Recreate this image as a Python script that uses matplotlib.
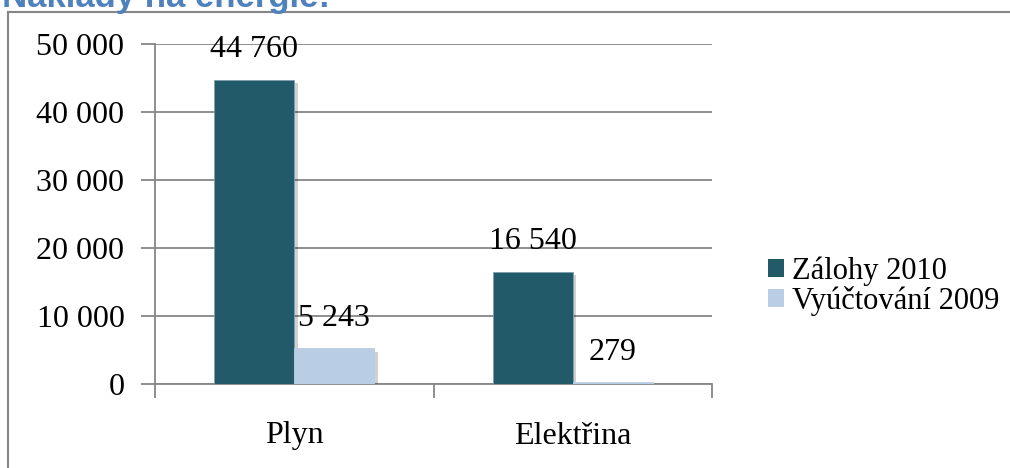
import matplotlib.pyplot as plt
import matplotlib.patheffects as pe
from matplotlib.lines import Line2D
from matplotlib.patches import Patch
import numpy as np

plt.rcParams['font.family'] = ['Liberation Serif', 'DejaVu Serif']

# data
kategorie = ['Plyn', 'Elektřina']
zalohy_2010 = [44760, 16540]
vyuctovani_2009 = [5243, 279]
serie = ['Zálohy 2010', 'Vyúčtování 2009']
y_ticks = [0, 10000, 20000, 30000, 40000, 50000]
y_labels = ['0', '10 000', '20 000', '30 000', '40 000', '50 000']

tmava = '#235A69'
svetla = '#B9CDE5'
seda = '#868686'
fs = 23

fig = plt.figure(figsize=(10.1, 4.68), dpi=100)
ax = fig.add_axes([155/1010, 1-384/468, (712-155)/1010, (384-44)/468])

x = np.arange(len(kategorie))
w = 0.287
stin = [pe.SimplePatchShadow(offset=(2.5, -2.5), shadow_rgbFace='#000000', alpha=0.18), pe.Normal()]
b1 = ax.bar(x - w/2, zalohy_2010, w, color=tmava, edgecolor='#7F9FB0', linewidth=0.6, zorder=3)
b2 = ax.bar(x + w/2, vyuctovani_2009, w, color=svetla, edgecolor=svetla, linewidth=0.6, zorder=3)
for b in list(b1) + list(b2):
    b.set_path_effects(stin)

def fmt(v):
    return f'{v:,}'.replace(',', ' ')

for bars, vals in ((b1, zalohy_2010), (b2, vyuctovani_2009)):
    for b, v in zip(bars, vals):
        ax.annotate(fmt(v), (b.get_x() + b.get_width()/2, v), xytext=(0, 11),
                    textcoords='offset points', ha='center', va='bottom', fontsize=fs, zorder=4)

ax.set_xlim(-0.5, 1.5)
ax.set_ylim(0, 50000)
ax.set_yticks(y_ticks)
ax.set_yticklabels(y_labels, fontsize=fs)
ax.yaxis.grid(True, color=seda, linewidth=1.3, zorder=0)
ax.set_axisbelow(True)
ax.tick_params(axis='y', length=10, width=1.3, color=seda, pad=12)

ax.set_xticks([-0.5, 0.5, 1.5])
ax.set_xticklabels([])
ax.set_xticks(x, minor=True)
ax.set_xticklabels(kategorie, minor=True, fontsize=fs)
ax.tick_params(axis='x', which='major', length=10, width=1.3, color=seda)
ax.tick_params(axis='x', which='minor', length=0, pad=27)

for s in ['top', 'right']:
    ax.spines[s].set_visible(False)
for s in ['left', 'bottom']:
    ax.spines[s].set_color(seda)
    ax.spines[s].set_linewidth(1.3)

handles = [Patch(facecolor=tmava), Patch(facecolor=svetla)]
fig.legend(handles=handles, labels=serie, loc='center left',
           bbox_to_anchor=(768/1010, 1-286/468), frameon=False, fontsize=22,
           handlelength=0.52, handleheight=0.52, handletextpad=0.25,
           labelspacing=0.0, borderpad=0, borderaxespad=0)

# outer frame of the chart
fig.add_artist(Line2D([8/1010, 8/1010], [0, 1-12/468], color=seda, linewidth=1.5))
fig.add_artist(Line2D([8/1010, 1], [1-12/468, 1-12/468], color=seda, linewidth=1.5))

# title, cut off at the top as in the original
fig.text(2/1010, 1-7/468, 'Náklady na energie:', family='Liberation Sans', fontweight='bold',
         fontsize=25, color='#4F81BD', ha='left', va='baseline')

fig.savefig('out.png', dpi=100)
